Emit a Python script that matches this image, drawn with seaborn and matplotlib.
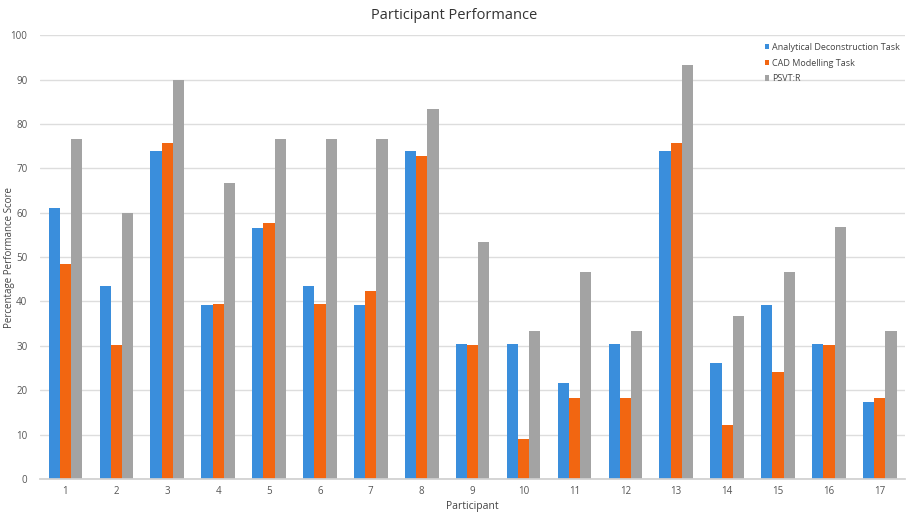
import matplotlib
matplotlib.use("Agg")
import matplotlib.pyplot as plt
import seaborn as sns
import pandas as pd

participants = [str(i) for i in range(1, 18)]
analytical = [61.0, 43.5, 73.9, 39.1, 56.5, 43.5, 39.1, 73.9, 30.4, 30.4, 21.7, 30.4, 73.9, 26.1, 39.1, 30.4, 17.4]
cad = [48.5, 30.3, 75.8, 39.4, 57.6, 39.4, 42.4, 72.7, 30.3, 9.1, 18.2, 18.2, 75.8, 12.1, 24.2, 30.3, 18.2]
psvt = [76.7, 60.0, 90.0, 66.7, 76.7, 76.7, 76.7, 83.3, 53.3, 33.3, 46.7, 33.3, 93.3, 36.7, 46.7, 56.7, 33.3]
series_names = ["Analytical Deconstruction Task", "CAD Modelling Task", "PSVT:R"]
yticks = list(range(0, 101, 10))

rows = []
for name, vals in zip(series_names, [analytical, cad, psvt]):
    for p, v in zip(participants, vals):
        rows.append({"Participant": p, "Score": v, "Series": name})
df = pd.DataFrame(rows)

sns.set_theme(style="white")
plt.rcParams["font.family"] = ["Open Sans", "DejaVu Sans"]

fig = plt.figure(figsize=(9.08, 5.17), dpi=100)
ax = fig.add_axes([0.044, 0.0735, 0.953, 0.8585])

palette = ["#3A8EDC", "#F26611", "#A3A3A3"]
sns.barplot(data=df, x="Participant", y="Score", hue="Series", order=participants,
            hue_order=series_names, palette=palette, width=0.66, saturation=1,
            errorbar=None, ax=ax, edgecolor="none", linewidth=0)

ax.set_ylim(0, 100)
ax.set_yticks(yticks)
ax.set_yticklabels([str(t) for t in yticks], fontsize=7, color="#555555")
ax.tick_params(axis="x", labelsize=7, colors="#555555", length=0, pad=5)
ax.tick_params(axis="y", length=0, pad=9)
ax.yaxis.grid(True, color="#DDDDDD", linewidth=1)
ax.set_axisbelow(True)
for s in ["top", "right", "left"]:
    ax.spines[s].set_visible(False)
ax.spines["bottom"].set_color("#D0D0D0")

ax.set_xlabel("Participant", fontsize=7.5, color="#444444", labelpad=3)
ax.set_ylabel("Percentage Performance Score", fontsize=7, color="#444444")
ax.yaxis.set_label_coords(-0.029, 0.5)
fig.suptitle("Participant Performance", fontsize=10.5, color="#333333", y=0.985)

leg = ax.legend(loc="upper right", bbox_to_anchor=(1.0, 0.995), frameon=False,
                fontsize=6.5, handlelength=0.5, handleheight=0.6, handletextpad=0.3,
                labelspacing=0.75, borderaxespad=0.2)
for t in leg.get_texts():
    t.set_color("#444444")

fig.savefig("out.png", dpi=100)
